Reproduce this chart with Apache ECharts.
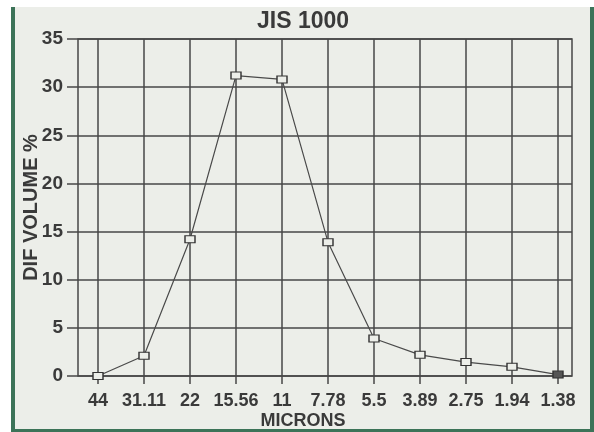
<!DOCTYPE html>
<html>
<head>
<meta charset="utf-8">
<script src="https://cdn.jsdelivr.net/npm/echarts@6/dist/echarts.min.js"></script>
<style>
  html, body { margin: 0; padding: 0; background: #ffffff; }
  #chart { width: 594px; height: 432px; }
</style>
</head>
<body>
<div id="chart"></div>
<script>
// particle size classes (microns) and differential volume %
const microns = ["44", "31.11", "22", "15.56", "11", "7.78", "5.5", "3.89", "2.75", "1.94", "1.38"];
const difVolume = [0, 2.1, 14.2, 31.2, 30.8, 13.9, 3.9, 2.2, 1.45, 0.95, 0.15];
const yTicks = [0, 35, 5]; // min, max, step

const ink = "#3a3a3a";
const lineCol = "#474747";
const paper = "#eceee9";
const green = "#3c7358";

const chart = echarts.init(document.getElementById("chart"), null, { renderer: "canvas" });

const seriesData = difVolume.map(function (v, i) {
  if (i === difVolume.length - 1) {
    return { value: v, itemStyle: { color: "#555555" } };
  }
  return v;
});

chart.setOption({
  backgroundColor: "#ffffff",
  animation: false,
  textStyle: { fontFamily: "Liberation Sans, Arial, sans-serif" },
  graphic: [
    { type: "rect", z: -10, shape: { x: 13, y: 7, width: 579, height: 424 }, style: { fill: paper } },
    { type: "rect", z: -9, shape: { x: 11, y: 7, width: 4, height: 425 }, style: { fill: green } },
    { type: "rect", z: -9, shape: { x: 11, y: 429, width: 583, height: 3 }, style: { fill: green } },
    { type: "rect", z: -9, shape: { x: 590, y: 7, width: 4, height: 425 }, style: { fill: green } }
  ],
  title: {
    text: "JIS 1000",
    left: 257,
    top: 10,
    padding: 0,
    textStyle: { fontSize: 23, fontWeight: "bold", color: ink }
  },
  grid: [
    { left: 78, top: 39, width: 494, height: 337, show: true, borderColor: lineCol, borderWidth: 1.5, backgroundColor: "transparent", containLabel: false, outerBoundsMode: "none" },
    { left: 98, top: 39, width: 460, height: 337, containLabel: false, outerBoundsMode: "none" }
  ],
  xAxis: [
    { type: "value", gridIndex: 0, show: false, min: 0, max: 1 },
    {
      type: "category",
      gridIndex: 1,
      data: microns,
      boundaryGap: false,
      axisLine: { show: false },
      axisTick: { show: true, length: 8, lineStyle: { color: lineCol, width: 1.5 } },
      axisLabel: { interval: 0, margin: 16, fontSize: 18, fontWeight: "bold", color: ink },
      splitLine: { show: true, lineStyle: { color: lineCol, width: 1.5 } },
      name: "MICRONS",
      nameLocation: "middle",
      nameGap: 36,
      nameMoveOverlap: false,
      nameTextStyle: { fontSize: 18, fontWeight: "bold", color: ink, padding: [0, 50, 0, 0] }
    }
  ],
  yAxis: [
    {
      type: "value",
      gridIndex: 0,
      min: yTicks[0],
      max: yTicks[1],
      interval: yTicks[2],
      axisLine: { show: false },
      axisTick: { show: true, length: 11, lineStyle: { color: lineCol, width: 1.5 } },
      axisLabel: { margin: 15, fontSize: 19, fontWeight: "bold", color: ink },
      splitLine: { show: true, lineStyle: { color: lineCol, width: 1.5 } },
      name: "DIF VOLUME %",
      nameLocation: "middle",
      nameGap: 37,
      nameMoveOverlap: false,
      nameRotate: 90,
      nameTextStyle: { fontSize: 20, fontWeight: "bold", color: ink }
    },
    { type: "value", gridIndex: 1, min: yTicks[0], max: yTicks[1], show: false }
  ],
  series: [
    {
      type: "line",
      xAxisIndex: 1,
      yAxisIndex: 1,
      data: seriesData,
      symbol: "rect",
      symbolSize: [10, 7],
      showAllSymbol: true,
      lineStyle: { color: "#4a4a4a", width: 1.2 },
      itemStyle: { color: paper, borderColor: "#333333", borderWidth: 1.2 },
      z: 5
    }
  ]
});
</script>
</body>
</html>
